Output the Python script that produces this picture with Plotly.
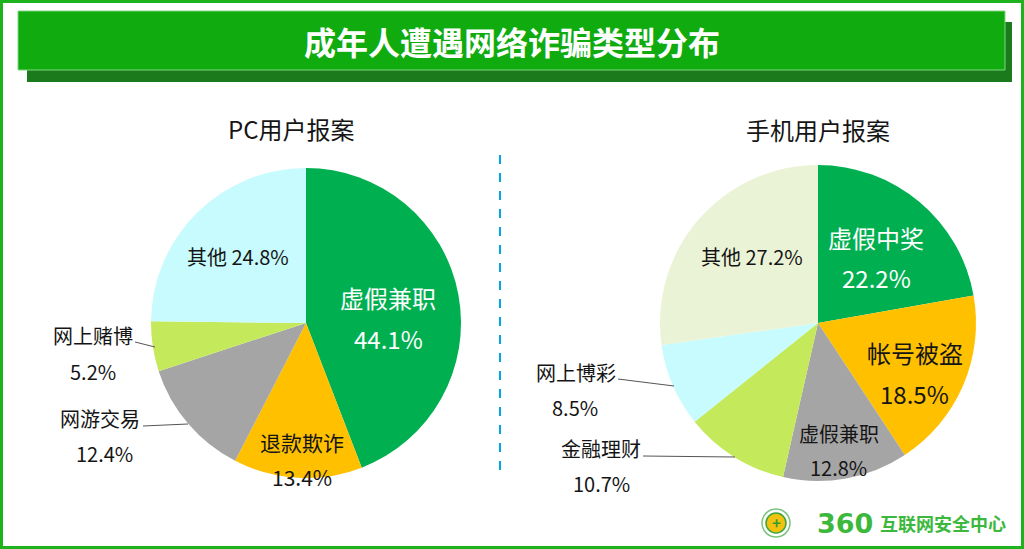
import plotly.graph_objects as go

# ---------------- data ----------------
pc_labels = ["虚假兼职", "退款欺诈", "网游交易", "网上赌博", "其他"]
pc_values = [44.1, 13.4, 12.4, 5.2, 24.8]

mob_labels = ["虚假中奖", "帐号被盗", "虚假兼职", "金融理财", "网上博彩", "其他"]
mob_values = [22.2, 18.5, 12.8, 10.7, 8.5, 27.2]

title_text = "成年人遭遇网络诈骗类型分布"
pc_title = "PC用户报案"
mob_title = "手机用户报案"
brand_num = "360"
brand_text = "互联网安全中心"

# ---------------- styles ----------------
W, H = 1024, 549
FONT = "Noto Sans CJK SC"
GREEN = "#00b050"
ORANGE = "#ffc000"
GRAY = "#a5a5a5"
LIME = "#c4ea5c"
CYAN = "#c7fbfd"
BEIGE = "#ebf3d6"
DARK = "#151515"

pc_colors = [GREEN, ORANGE, GRAY, LIME, CYAN]
mob_colors = [GREEN, ORANGE, GRAY, LIME, CYAN, BEIGE]


def px(x):
    return x / W


def py(y):
    return 1 - y / H


fig = go.Figure()

# PC pie: center (306,323), r=155
fig.add_trace(go.Pie(
    labels=pc_labels, values=pc_values, sort=False, direction="clockwise",
    rotation=0, textinfo="none", hoverinfo="label+value",
    marker=dict(colors=pc_colors, line=dict(width=0)),
    domain=dict(x=[px(151), px(461)], y=[py(478), py(168)]),
    showlegend=False,
))
# Mobile pie: center (818,323), r=158
fig.add_trace(go.Pie(
    labels=mob_labels, values=mob_values, sort=False, direction="clockwise",
    rotation=0, textinfo="none", hoverinfo="label+value",
    marker=dict(colors=mob_colors, line=dict(width=0)),
    domain=dict(x=[px(660), px(976)], y=[py(481), py(165)]),
    showlegend=False,
))

shapes = []
ann = []


def text(t, x, y, size, color, bold=False, family=FONT):
    ann.append(dict(text=("<b>%s</b>" % t) if bold else t, x=px(x), y=py(y), xref="paper", yref="paper",
                    xanchor="center", yanchor="middle", showarrow=False,
                    font=dict(family=family, size=size, color=color)))


# outer frame
shapes.append(dict(type="rect", xref="paper", yref="paper", x0=px(1.5), y0=py(547.5), x1=px(1022.5), y1=py(1.5),
                   line=dict(color="#1db31d", width=3)))
# title bar shadow + bar
shapes.append(dict(type="rect", xref="paper", yref="paper", x0=px(27), x1=px(1012), y0=py(82), y1=py(22),
                   fillcolor="#1b7a1b", line=dict(width=0), layer="below"))
shapes.append(dict(type="rect", xref="paper", yref="paper", x0=px(18), x1=px(1005), y0=py(70), y1=py(11),
                   fillcolor="#0fab0f", line=dict(color="#7fd67f", width=1), layer="below"))
text(title_text, 512, 41, 32, "white", bold=True)

# subtitles
text(pc_title, 291, 128, 24, DARK)
text(mob_title, 818, 130, 24, DARK)

# dashed divider
shapes.append(dict(type="line", xref="paper", yref="paper", x0=px(500), x1=px(500), y0=py(155), y1=py(470),
                   line=dict(color="#00a8e8", width=2, dash="dash")))

# label positions (pixel centres) for each slice: (name_xy, pct_xy, color, size)
pc_label_pos = [
    ((388, 297), (388, 338), "white", 24),
    ((302, 442), (302, 477), DARK, 21),
    ((100, 418), (104, 453), DARK, 20),
    ((93, 335), (93, 371), DARK, 20),
    None,
]
mob_label_pos = [
    ((876, 237), (876, 277), "white", 24),
    ((915, 352), (914, 393), DARK, 24),
    ((839, 433), (838, 468), DARK, 20),
    ((601, 448), (601, 483), DARK, 20),
    ((576, 372), (575, 407), DARK, 20),
    None,
]


def add_labels(labels, values, positions):
    for lab, val, pos in zip(labels, values, positions):
        if pos is None:
            continue
        (nx, ny), (vx, vy), col, sz = pos
        text(lab, nx, ny, sz, col)
        text(f"{val}%", vx, vy, sz, col)


add_labels(pc_labels, pc_values, pc_label_pos)
add_labels(mob_labels, mob_values, mob_label_pos)

# single-line "其他" labels
text(f"{pc_labels[4]} {pc_values[4]}%", 238, 257, 20, DARK)
text(f"{mob_labels[5]} {mob_values[5]}%", 752, 257, 20, DARK)

# leader lines
leaders = [
    ((135, 342), (155, 347)),
    ((143, 426), (188, 424)),
    ((618, 379), (674, 386)),
    ((643, 456), (735, 457)),
]
for (x0, y0), (x1, y1) in leaders:
    shapes.append(dict(type="line", xref="paper", yref="paper", x0=px(x0), y0=py(y0), x1=px(x1), y1=py(y1),
                       line=dict(color="#555555", width=1)))

# brand logo
shapes.append(dict(type="circle", xref="paper", yref="paper", x0=px(762), x1=px(790), y0=py(537), y1=py(509),
                   line=dict(color="#7cc47c", width=1.5)))
shapes.append(dict(type="circle", xref="paper", yref="paper", x0=px(766), x1=px(786), y0=py(533), y1=py(513),
                   fillcolor="#f2c20f", line=dict(color="#3aa53a", width=1.5)))
text("+", 776, 522, 15, "#2e9e2e", bold=True)
text(brand_num, 845, 523, 27, "#3cb83c", bold=True, family="DejaVu Sans")
text(brand_text, 943, 523, 18, "#3cb83c", bold=True)

fig.update_layout(
    width=W, height=H, margin=dict(l=0, r=0, t=0, b=0),
    paper_bgcolor="white", plot_bgcolor="white",
    shapes=shapes, annotations=ann, showlegend=False,
)

fig.write_html("out.html", config={"displayModeBar": False},
               post_script="document.body.style.margin='0';document.body.style.overflow='hidden';")
